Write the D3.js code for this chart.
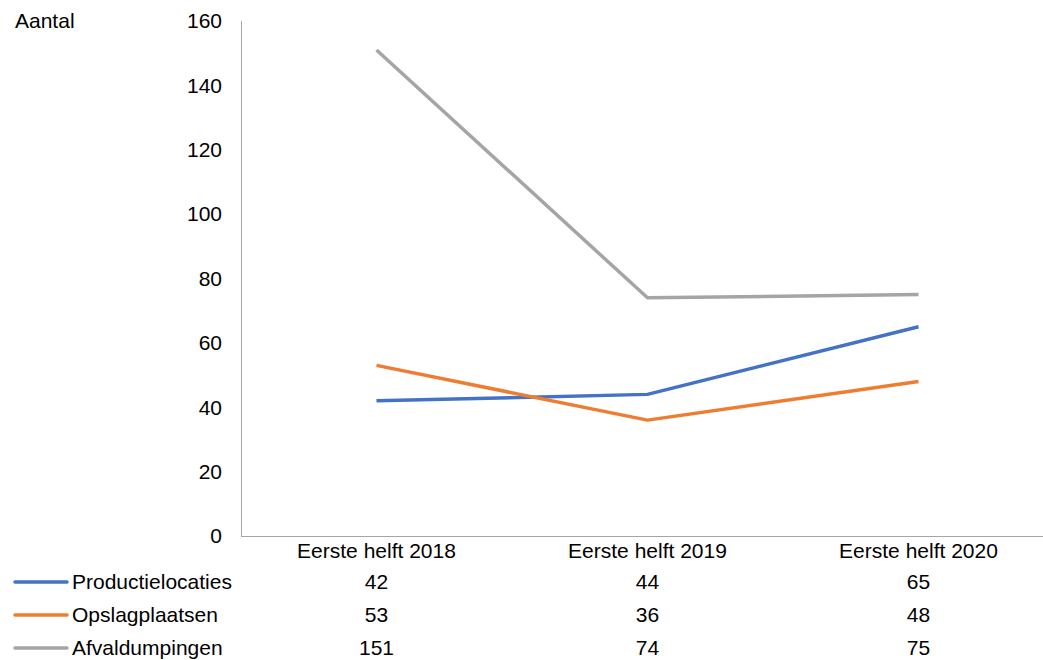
<!DOCTYPE html>
<html><head><meta charset="utf-8">
<script src="https://cdn.jsdelivr.net/npm/d3@7"></script>
<style>body{margin:0;background:#fff}svg{display:block}text{font-family:"Liberation Sans",Arial,sans-serif;fill:#000}</style>
</head><body><svg id="c" width="1043" height="660"></svg>
<script>
const categories = ["Eerste helft 2018", "Eerste helft 2019", "Eerste helft 2020"];
const seriesNames = ["Productielocaties", "Opslagplaatsen", "Afvaldumpingen"];
const productielocaties = [42, 44, 65];
const opslagplaatsen = [53, 36, 48];
const afvaldumpingen = [151, 74, 75];
const yTicks = [0, 20, 40, 60, 80, 100, 120, 140, 160];
const colors = ["#4472C4", "#ED7D31", "#A5A5A5"];
const series = [productielocaties, opslagplaatsen, afvaldumpingen];

const svg = d3.select("#c");
const x = d3.scaleBand().domain(categories).range([241, 1054]);
const y = d3.scaleLinear().domain([0, 160]).range([536, 21]);
const fs = 21;

// axes
svg.append("line").attr("x1", 241.5).attr("x2", 241.5).attr("y1", y(160)).attr("y2", y(0)).attr("stroke", "#a6a6a6").attr("stroke-width", 1);
svg.append("line").attr("x1", 241).attr("x2", 1054).attr("y1", y(0)+0.5).attr("y2", y(0)+0.5).attr("stroke", "#a6a6a6").attr("stroke-width", 1);
svg.selectAll(".yt").data(yTicks).enter().append("text")
  .attr("x", 222).attr("y", d => y(d)).attr("dy", "0.35em").attr("text-anchor", "end")
  .attr("font-size", fs).text(d => d);
svg.append("text").attr("x", 15).attr("y", 21).attr("dy", "0.35em").attr("font-size", fs).text("Aantal");

// category labels
svg.selectAll(".cl").data(categories).enter().append("text")
  .attr("x", d => x(d) + x.bandwidth()/2).attr("y", 551).attr("dy", "0.35em")
  .attr("text-anchor", "middle").attr("font-size", fs).text(d => d);

// lines
const line = d3.line().x((d, i) => x(categories[i]) + x.bandwidth()/2).y(d => y(d));
series.forEach((s, k) => {
  svg.append("path").datum(s).attr("d", line).attr("fill", "none")
    .attr("stroke", colors[k]).attr("stroke-width", 3.5).attr("stroke-linejoin", "round");
});

// data table
const rowY = [582, 615, 648];
series.forEach((s, k) => {
  svg.append("line").attr("x1", 15).attr("x2", 67).attr("y1", rowY[k]).attr("y2", rowY[k])
    .attr("stroke", colors[k]).attr("stroke-width", 3.5).attr("stroke-linecap", "round");
  svg.append("text").attr("x", 72).attr("y", rowY[k]).attr("dy", "0.35em").attr("font-size", fs).text(seriesNames[k]);
  svg.selectAll(null).data(s).enter().append("text")
    .attr("x", (d, i) => x(categories[i]) + x.bandwidth()/2).attr("y", rowY[k]).attr("dy", "0.35em")
    .attr("text-anchor", "middle").attr("font-size", fs).text(d => d);
});
</script></body></html>
